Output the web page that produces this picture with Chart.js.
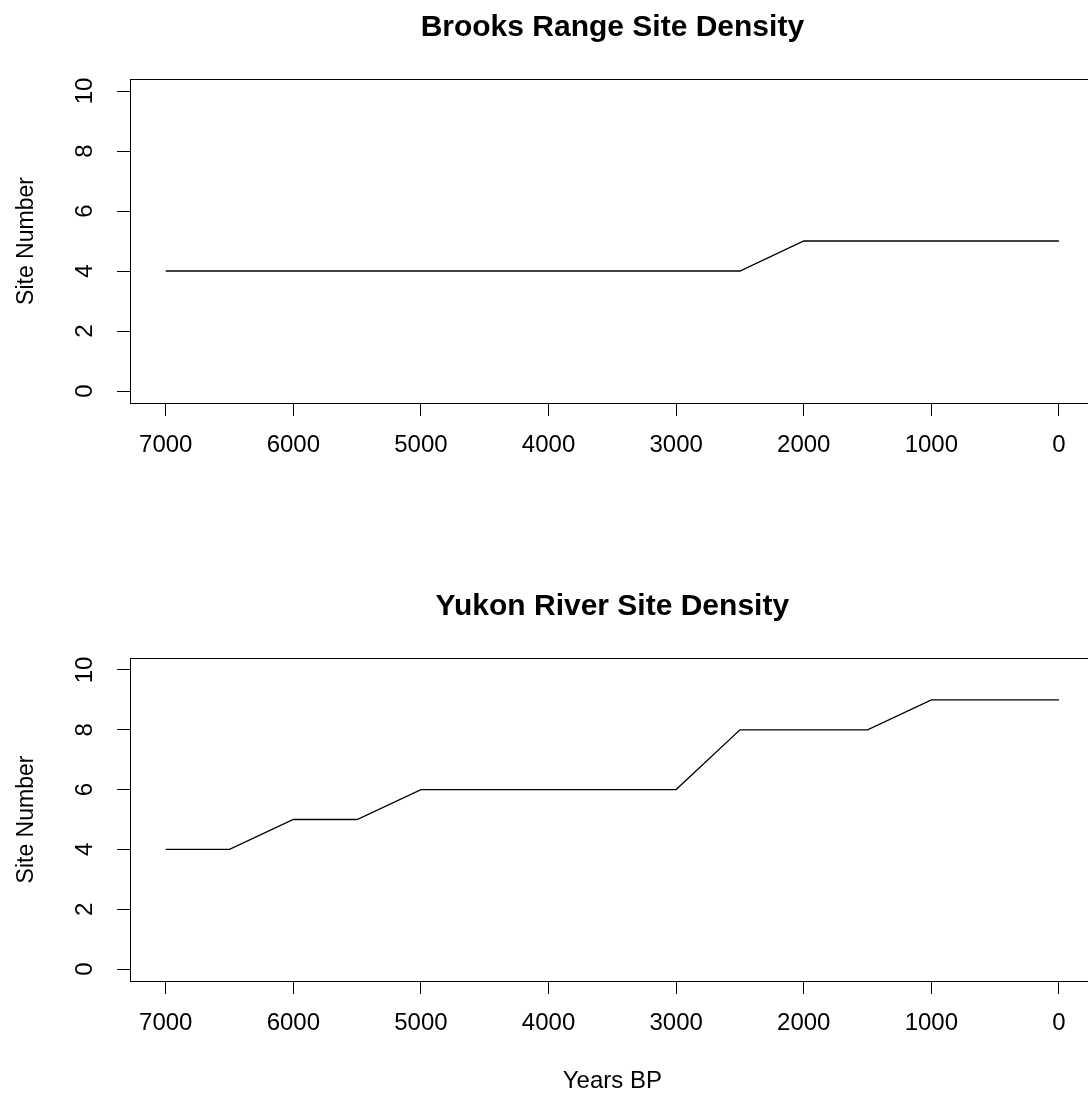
<!DOCTYPE html>
<html>
<head>
<meta charset="utf-8">
<script src="https://cdn.jsdelivr.net/npm/chart.js@4/dist/chart.umd.min.js"></script>
<style>
  html, body { margin: 0; padding: 0; background: #fff; overflow: hidden; }
  #wrap { position: relative; width: 1088px; height: 1093px; overflow: hidden; }
  canvas { position: absolute; left: 0; }
  #graph1 { top: 0; }
  #graph2 { top: 560px; }
</style>
</head>
<body>
<div id="wrap">
  <canvas id="graph1" width="1100" height="560"></canvas>
  <canvas id="graph2" width="1100" height="534"></canvas>
</div>
<script>
  // years before present, one entry every 500 years
  const years = [7000, 6500, 6000, 5500, 5000, 4500, 4000, 3500, 3000, 2500, 2000, 1500, 1000, 500, 0]
  const brooksSites = [4, 4, 4, 4, 4, 4, 4, 4, 4, 4, 5, 5, 5, 5, 5]
  const yukonSites = [4, 4, 5, 5, 6, 6, 6, 6, 6, 8, 8, 8, 9, 9, 9]

  const xTicks = [7000, 6000, 5000, 4000, 3000, 2000, 1000, 0]
  const yTicks = [0, 2, 4, 6, 8, 10]

  const family = '"Liberation Sans", Arial, Helvetica, sans-serif'
  Chart.defaults.font.family = family
  Chart.defaults.color = '#000'

  // the frame around the plotting region
  const boxPlugin = {
    id: 'box',
    afterDraw(chart) {
      const a = chart.chartArea
      const c = chart.ctx
      c.save()
      c.strokeStyle = '#000'
      c.lineWidth = 1
      c.strokeRect(Math.round(a.left) + 0.5, Math.round(a.top) + 0.5, a.right - a.left, a.bottom - a.top)
      c.restore()
    }
  }

  function makeChart(id, title, sites, xHeight, xTitle, titlePad) {
    return new Chart(document.getElementById(id), {
      type: 'line',
      data: {
        datasets: [{
          data: years.map((yr, i) => ({ x: yr, y: sites[i] })),
          borderColor: '#000',
          borderWidth: 1.3,
          pointRadius: 0,
          tension: 0,
          fill: false
        }]
      },
      options: {
        responsive: false,
        animation: false,
        layout: { padding: { left: 0, right: 5.3, top: 0, bottom: 0 } },
        plugins: {
          legend: { display: false },
          tooltip: { enabled: false },
          title: {
            display: true,
            text: title,
            fullSize: false,
            color: '#000',
            font: { family, size: 30, weight: 'bold' },
            padding: titlePad
          }
        },
        scales: {
          x: {
            type: 'linear',
            reverse: true,
            min: -280,
            max: 7280,
            afterBuildTicks: s => { s.ticks = xTicks.map(v => ({ value: v })) },
            afterFit: s => { s.height = xHeight },
            grid: { drawOnChartArea: false, drawTicks: true, tickLength: 13, color: '#000' },
            border: { color: '#000', width: 1 },
            ticks: {
              autoSkip: false,
              maxRotation: 0,
              padding: 15,
              color: '#000',
              font: { size: 24 },
              callback: v => String(v)
            },
            title: {
              display: !!xTitle,
              text: xTitle || '',
              color: '#000',
              font: { size: 24, lineHeight: 1 },
              padding: { top: 0, bottom: 1 }
            }
          },
          y: {
            type: 'linear',
            min: -0.4,
            max: 10.4,
            afterBuildTicks: s => { s.ticks = yTicks.map(v => ({ value: v })) },
            afterFit: s => { s.width = 130 },
            grid: { drawOnChartArea: false, drawTicks: true, tickLength: 13, color: '#000' },
            border: { color: '#000', width: 1 },
            ticks: {
              minRotation: 90,
              maxRotation: 90,
              crossAlign: 'center',
              padding: 18,
              color: '#000',
              font: { size: 24 },
              callback: v => String(v)
            },
            title: {
              display: true,
              text: 'Site Number',
              color: '#000',
              font: { size: 23 },
              padding: { top: 13, bottom: 0 }
            }
          }
        }
      },
      plugins: [boxPlugin]
    })
  }

  makeChart('graph1', 'Brooks Range Site Density', brooksSites, 157, null, { top: 10, bottom: 33 })
  makeChart('graph2', 'Yukon River Site Density', yukonSites, 113, 'Years BP', { top: 29, bottom: 33 })
</script>
</body>
</html>
